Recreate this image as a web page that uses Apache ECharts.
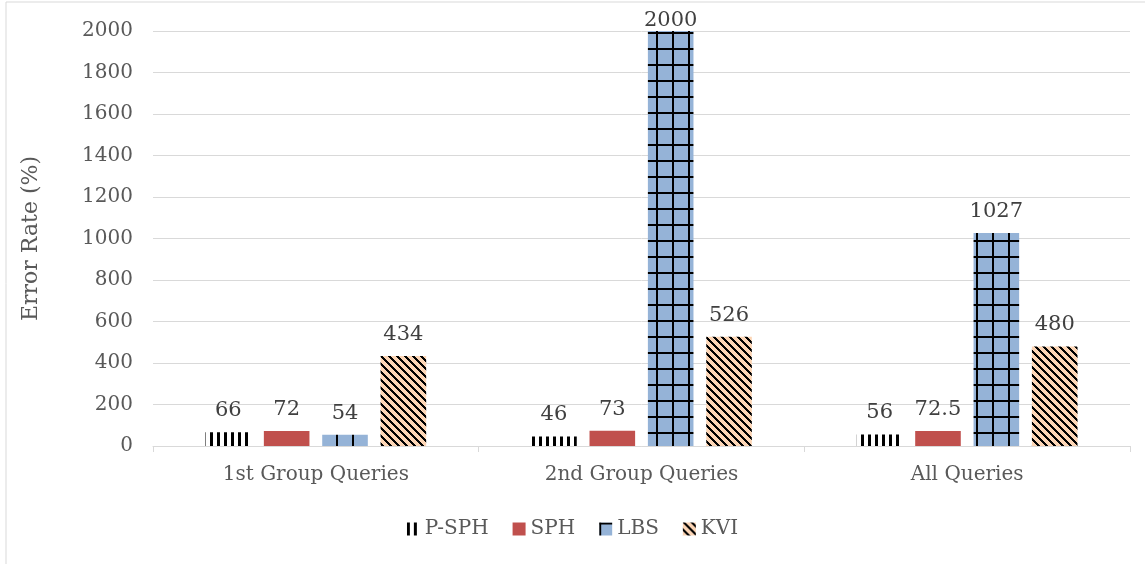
<!DOCTYPE html>
<html><head><meta charset="utf-8">
<script src="https://cdn.jsdelivr.net/npm/echarts@6/dist/echarts.min.js"></script>
<style>html,body{margin:0;padding:0;background:#fff}#c{width:1145px;height:564px}</style>
</head><body><div id="c"></div>
<script>
const categories = ['1st Group Queries', '2nd Group Queries', 'All Queries'];
const seriesNames = ['P-SPH', 'SPH', 'LBS', 'KVI'];
const psph = [66, 46, 56];
const sph = [72, 73, 72.5];
const lbs = [54, 2000, 1027];
const kvi = [434, 526, 480];
const yTicks = {min: 0, max: 2000, interval: 200};

function pat(w, h, draw) {
  const c = document.createElement('canvas'); c.width = w; c.height = h;
  const g = c.getContext('2d'); draw(g); return c;
}
const pPSPH = pat(7, 8, g => { g.fillStyle = '#fff'; g.fillRect(0,0,7,8); g.fillStyle = '#000'; g.fillRect(0,0,3,8); });
const pLBS = pat(16, 16, g => { g.fillStyle = '#95B3D7'; g.fillRect(0,0,16,16); g.fillStyle = '#000'; g.fillRect(0,0,2,16); g.fillRect(0,0,16,2); });
const pKVI = pat(8, 8, g => { g.fillStyle = '#FCD5B5'; g.fillRect(0,0,8,8); g.fillStyle = '#000';
  for (let y = 0; y < 8; y++) for (let k = 0; k < 3; k++) g.fillRect((y + k) % 8, y, 1, 1); });

const font = 'DejaVu Serif';
const colors = [
  {image: pPSPH, repeat: 'repeat'},
  '#C0504D',
  {image: pLBS, repeat: 'repeat'},
  {image: pKVI, repeat: 'repeat'}
];
const datas = [psph, sph, lbs, kvi];

const chart = echarts.init(document.getElementById('c'), null, {renderer: 'canvas'});
chart.setOption({
  animation: false,
  textStyle: {fontFamily: font},
  graphic: [{type: 'rect', shape: {x: 6, y: 2, width: 1200, height: 620}, style: {fill: 'none', stroke: '#D9D9D9', lineWidth: 1}, z: -1}],
  grid: {left: 153, right: 15, top: 31, bottom: 118},
  legend: {
    data: seriesNames, left: 'center', top: 514, itemWidth: 13, itemHeight: 13, itemGap: 24,
    icon: 'rect', textStyle: {fontFamily: font, fontSize: 20, color: '#595959'}
  },
  xAxis: {
    type: 'category', data: categories,
    axisLine: {lineStyle: {color: '#D9D9D9', width: 1}},
    axisTick: {show: true, length: 6, lineStyle: {color: '#D9D9D9'}},
    axisLabel: {fontFamily: font, fontSize: 20, color: '#595959', margin: 19}
  },
  yAxis: {
    type: 'value', min: yTicks.min, max: yTicks.max, interval: yTicks.interval,
    name: 'Error Rate (%)', nameLocation: 'middle', nameGap: 111,
    nameTextStyle: {fontFamily: font, fontSize: 22, color: '#595959'},
    axisLine: {show: false}, axisTick: {show: false},
    splitLine: {lineStyle: {color: '#D9D9D9', width: 1}},
    axisLabel: {fontFamily: font, fontSize: 20, color: '#595959', margin: 20, formatter: v => String(v)}
  },
  series: seriesNames.map((n, i) => ({
    name: n, type: 'bar', barWidth: '14%', barGap: '28%',
    data: datas[i].map(v => v >= yTicks.max ? {value: v, label: {distance: 0}} : v),
    itemStyle: {color: colors[i]},
    label: {show: true, position: 'top', distance: 11, fontFamily: font, fontSize: 21, color: '#404040'}
  }))
});
</script></body></html>
